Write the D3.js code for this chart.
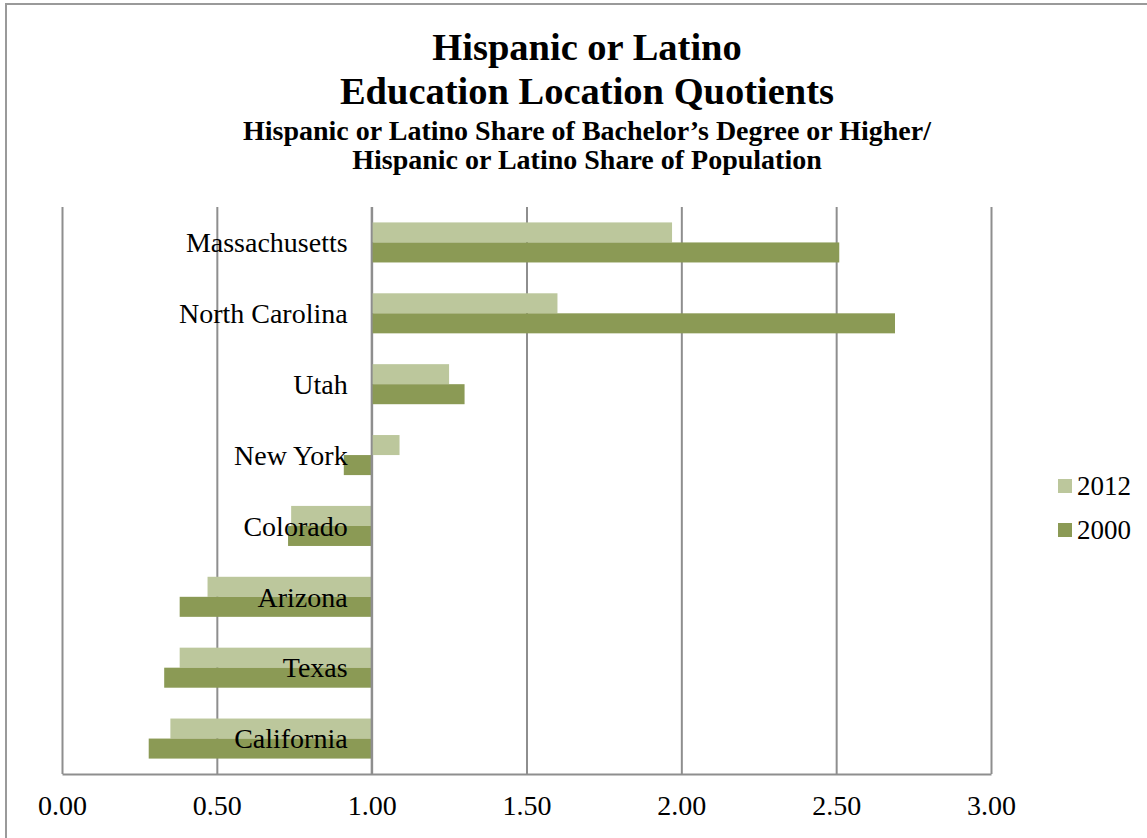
<!DOCTYPE html>
<html>
<head>
<meta charset="utf-8">
<script src="https://cdn.jsdelivr.net/npm/d3@7"></script>
<style>
  html, body { margin: 0; padding: 0; background: #fff; }
  svg { display: block; }
  text { font-family: "Liberation Serif", "Times New Roman", serif; fill: #000; }
</style>
</head>
<body>
<svg id="chart" width="1147" height="838"></svg>
<script>
// Location quotients by state, top to bottom
const categories = ["Massachusetts", "North Carolina", "Utah", "New York", "Colorado", "Arizona", "Texas", "California"];
const seriesNames = ["2012", "2000"];
const values2012 = [1.97, 1.60, 1.25, 1.09, 0.74, 0.47, 0.38, 0.35];
const values2000 = [2.51, 2.69, 1.30, 0.91, 0.73, 0.38, 0.33, 0.28];
const tickValues = [0, 0.5, 1, 1.5, 2, 2.5, 3];
const tickLabels = ["0.00", "0.50", "1.00", "1.50", "2.00", "2.50", "3.00"];
const titleLines = ["Hispanic or Latino", "Education Location Quotients"];
const subtitleLines = ["Hispanic or Latino Share of Bachelor\u2019s Degree or Higher/", "Hispanic or Latino Share of Population"];

const colors = { "2012": "#bcc79c", "2000": "#8b9a55" };
const gridColor = "#8e8e8e";

const svg = d3.select("#chart");

// Outer frame
svg.append("rect")
  .attr("x", 6).attr("y", 4)
  .attr("width", 1150).attr("height", 850)
  .attr("fill", "none").attr("stroke", "#9a9a9a").attr("stroke-width", 2);

const plot = { left: 62, right: 991, top: 207, bottom: 774 };
const baseline = 1;

const x = d3.scaleLinear().domain([0, 3]).range([plot.left, plot.right]);
const y = d3.scaleBand().domain(categories)
  .range([plot.top, plot.bottom])
  .paddingInner(0.435).paddingOuter(0.2175);
const ySeries = d3.scaleBand().domain(seriesNames).range([0, y.bandwidth()]);

// Vertical gridlines
svg.append("g")
  .attr("transform", `translate(0,${plot.bottom})`)
  .call(d3.axisBottom(x).tickValues(tickValues).tickSize(-(plot.bottom - plot.top)).tickFormat(""))
  .call(g => g.select(".domain").remove())
  .call(g => g.selectAll(".tick line").attr("stroke", gridColor).attr("stroke-width", 2));

// Bars grow from the 1.00 baseline
const seriesData = { "2012": values2012, "2000": values2000 };
seriesNames.forEach(name => {
  svg.append("g").selectAll("rect")
    .data(categories.map((c, i) => ({ c, v: seriesData[name][i] })))
    .join("rect")
    .attr("x", d => x(Math.min(d.v, baseline)))
    .attr("width", d => Math.abs(x(d.v) - x(baseline)))
    .attr("y", d => y(d.c) + ySeries(name))
    .attr("height", ySeries.bandwidth())
    .attr("fill", colors[name]);
});

// Baseline at 1.00 drawn above the bars
svg.append("line")
  .attr("x1", x(baseline)).attr("x2", x(baseline))
  .attr("y1", plot.top).attr("y2", plot.bottom)
  .attr("stroke", gridColor).attr("stroke-width", 2);

// Bottom axis with labels
svg.append("g")
  .attr("transform", `translate(0,${plot.bottom})`)
  .call(d3.axisBottom(x).tickValues(tickValues).tickSize(0).tickPadding(21)
    .tickFormat((d, i) => tickLabels[i]))
  .call(g => g.select(".domain").attr("stroke", gridColor).attr("stroke-width", 2))
  .call(g => g.selectAll(".tick text")
    .style("font-family", "'Liberation Serif', serif")
    .style("font-size", "28px").attr("fill", "#000"));

// Category labels, right-aligned left of the baseline
svg.append("g").selectAll("text")
  .data(categories)
  .join("text")
  .attr("x", x(baseline) - 24)
  .attr("y", d => y(d) + y.bandwidth() / 2)
  .attr("dy", "0.35em")
  .attr("text-anchor", "end")
  .style("font-size", "28px")
  .text(d => d);

// Titles
const cx = 587;
svg.append("g").selectAll("text")
  .data(titleLines)
  .join("text")
  .attr("x", cx)
  .attr("y", (d, i) => 60 + i * 44)
  .attr("text-anchor", "middle")
  .style("font-size", "38.5px").style("font-weight", "bold")
  .text(d => d);

svg.append("g").selectAll("text")
  .data(subtitleLines)
  .join("text")
  .attr("x", cx)
  .attr("y", (d, i) => 140 + i * 29)
  .attr("text-anchor", "middle")
  .style("font-size", "28px").style("font-weight", "bold")
  .text(d => d);

// Legend
const legend = svg.append("g").selectAll("g")
  .data(seriesNames)
  .join("g")
  .attr("transform", (d, i) => `translate(1058,${479 + i * 44})`);
legend.append("rect")
  .attr("width", 14).attr("height", 14)
  .attr("fill", d => colors[d]);
legend.append("text")
  .attr("x", 19).attr("y", 7).attr("dy", "0.35em")
  .style("font-size", "27px")
  .text(d => d);
</script>
</body>
</html>
